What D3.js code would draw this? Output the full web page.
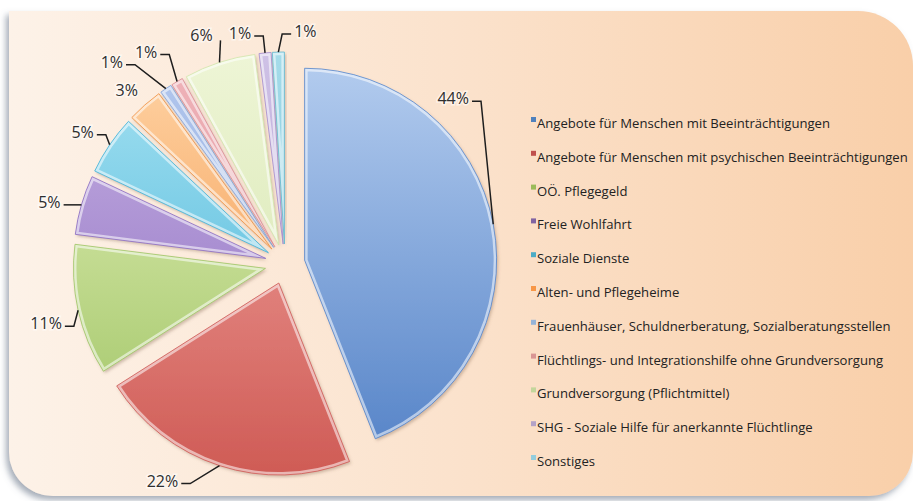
<!DOCTYPE html>
<html>
<head>
<meta charset="utf-8">
<script src="https://cdn.jsdelivr.net/npm/d3@7"></script>
<style>
  body { margin: 0; background: #fff; }
  svg { display: block; }
</style>
</head>
<body>
<svg id="chart" width="913" height="501"></svg>
<script>
// data
const categories = [
  "Angebote für Menschen mit Beeinträchtigungen",
  "Angebote für Menschen mit psychischen Beeinträchtigungen",
  "OÖ. Pflegegeld",
  "Freie Wohlfahrt",
  "Soziale Dienste",
  "Alten- und Pflegeheime",
  "Frauenhäuser, Schuldnerberatung, Sozialberatungsstellen",
  "Flüchtlings- und Integrationshilfe ohne Grundversorgung",
  "Grundversorgung (Pflichtmittel)",
  "SHG - Soziale Hilfe für anerkannte Flüchtlinge",
  "Sonstiges"
];
const values = [44, 22, 11, 5, 5, 3, 1, 1, 6, 1, 1];
const labels = ["44%", "22%", "11%", "5%", "5%", "3%", "1%", "1%", "6%", "1%", "1%"];

// colours: light (top) / dark (bottom) per slice
const lightColors = ["#b2cbee", "#f2a6a2", "#e2efb8", "#c6b0e2", "#a6e2f2", "#ffd4a6", "#b4c8ee", "#f0b4ba", "#eef5d6", "#cfc2e6", "#a6dcea"];
const darkColors  = ["#5684c8", "#cf5b55", "#9fc464", "#8a6bc0", "#3fb0d6", "#f08e3c", "#7f9fd8", "#d98a92", "#d2e4aa", "#a48ccb", "#5fb8d0"];
const markColors  = ["#4f81bd", "#c0504d", "#9bbb59", "#8064a2", "#4bacc6", "#f79646", "#95b3d7", "#d99694", "#c3d69b", "#b3a2c7", "#93cddd"];

// label layout relative to the slice's outer edge point
const labelOffset = [[-40,-126],[-57,15],[-32,13],[-32,-3],[-27,-13],[-18,-15],[-54,-27],[-31,-30],[-18,-27],[-25,-20],[27,-21]];
const leaderType = ["elbow","elbow","elbow","elbow","elbow","none","elbow","elbow","vertical","elbow","elbow"];

const cx = 285, cy = 264, radius = 192, explode = 20;

const svg = d3.select("#chart");
const defs = svg.append("defs");

// panel background
const bg = defs.append("linearGradient").attr("id", "bg").attr("x1", 0).attr("x2", 1).attr("y1", 0).attr("y2", 0);
bg.append("stop").attr("offset", 0).attr("stop-color", "#fdf2e8");
bg.append("stop").attr("offset", 0.5).attr("stop-color", "#fbe2cc");
bg.append("stop").attr("offset", 1).attr("stop-color", "#f9cfa9");

const panelShadow = defs.append("filter").attr("id", "panelShadow").attr("x", "-5%").attr("y", "-5%").attr("width", "110%").attr("height", "115%");
panelShadow.append("feDropShadow").attr("dx", -3).attr("dy", 4).attr("stdDeviation", 3)
  .attr("flood-color", "#5d6b7d").attr("flood-opacity", 0.55);

const sliceShadow = defs.append("filter").attr("id", "sliceShadow").attr("x", "-20%").attr("y", "-20%").attr("width", "140%").attr("height", "140%");
sliceShadow.append("feDropShadow").attr("dx", 1.5).attr("dy", 2).attr("stdDeviation", 1.5)
  .attr("flood-color", "#7a5a40").attr("flood-opacity", 0.35);

svg.append("path")
  .attr("d", "M9,11 H858 A55,55 0 0 1 913,66 V452 A44,44 0 0 1 869,496 H53 A44,44 0 0 1 9,452 Z")
  .attr("fill", "url(#bg)")
  .attr("filter", "url(#panelShadow)");

// pie
const pie = d3.pie().sort(null).value(d => d)(values);
const arc = d3.arc().innerRadius(0).outerRadius(radius);

pie.forEach((d, i) => {
  const g = defs.append("linearGradient").attr("id", "grad" + i)
    .attr("gradientUnits", "userSpaceOnUse")
    .attr("x1", 0).attr("y1", -radius).attr("x2", 0).attr("y2", radius);
  g.append("stop").attr("offset", 0).attr("stop-color", lightColors[i]);
  g.append("stop").attr("offset", 1).attr("stop-color", darkColors[i]);
  defs.append("clipPath").attr("id", "clip" + i).append("path").attr("d", arc(d));
});

function dir(a) { return [Math.sin(a), -Math.cos(a)]; }

const pieG = svg.append("g").attr("transform", `translate(${cx},${cy})`);
const slices = pieG.selectAll("g.slice")
  .data(pie)
  .enter().append("g")
  .attr("class", "slice")
  .attr("transform", d => {
    const m = dir((d.startAngle + d.endAngle) / 2);
    return `translate(${m[0] * explode},${m[1] * explode})`;
  });

slices.append("path")
  .attr("d", arc)
  .attr("fill", (d, i) => `url(#grad${i})`)
  .attr("filter", "url(#sliceShadow)");

// bevel highlight
slices.append("path")
  .attr("d", arc)
  .attr("fill", "none")
  .attr("stroke", "#ffffff")
  .attr("stroke-opacity", 0.55)
  .attr("stroke-width", 6)
  .attr("clip-path", (d, i) => `url(#clip${i})`);

slices.append("path")
  .attr("d", arc)
  .attr("fill", "none")
  .attr("stroke", (d, i) => darkColors[i])
  .attr("stroke-width", 0.8);

// labels + leader lines
const outerPts = pie.map(d => {
  const m = dir((d.startAngle + d.endAngle) / 2);
  return [cx + m[0] * (radius + explode), cy + m[1] * (radius + explode)];
});

const labelG = svg.append("g");
pie.forEach((d, i) => {
  const p = outerPts[i];
  const lx = p[0] + labelOffset[i][0];
  const ly = p[1] + labelOffset[i][1];
  const t = labelG.append("text")
    .attr("x", lx).attr("y", ly)
    .attr("text-anchor", "middle")
    .attr("dominant-baseline", "central")
    .attr("font-family", "'Open Sans', sans-serif")
    .attr("font-size", 16)
    .attr("fill", "#2e2e2e")
    .attr("stroke", "#ffffff")
    .attr("stroke-opacity", 0.55)
    .attr("stroke-width", 3)
    .attr("paint-order", "stroke")
    .text(labels[i]);
  const w = t.node().getComputedTextLength();
  let pts = null;
  if (leaderType[i] === "elbow") {
    const side = p[0] >= lx ? 1 : -1;
    const sx = lx + side * (w / 2 + 3);
    const sy = ly + 3;
    pts = [[sx, sy], [sx + side * 9, sy], p];
  } else if (leaderType[i] === "vertical") {
    pts = [[p[0] + 1, ly + 5], p];
  }
  if (pts) {
    labelG.append("path")
      .attr("d", d3.line()(pts))
      .attr("fill", "none")
      .attr("stroke", "#1e1e1e")
      .attr("stroke-width", 1.5);
  }
});

// legend
const ly = d3.scalePoint().domain(categories).range([123, 461]);
const legend = svg.append("g").selectAll("g")
  .data(categories)
  .enter().append("g")
  .attr("transform", d => `translate(537,${ly(d)})`);

legend.append("rect")
  .attr("x", -6).attr("y", -6).attr("width", 5).attr("height", 5)
  .attr("fill", (d, i) => markColors[i]);

legend.append("text")
  .attr("x", 0).attr("y", 0)
  .attr("dominant-baseline", "central")
  .attr("font-family", "'Open Sans', sans-serif")
  .attr("font-size", 13.1)
  .attr("fill", "#222")
  .text(d => d);
</script>
</body>
</html>
